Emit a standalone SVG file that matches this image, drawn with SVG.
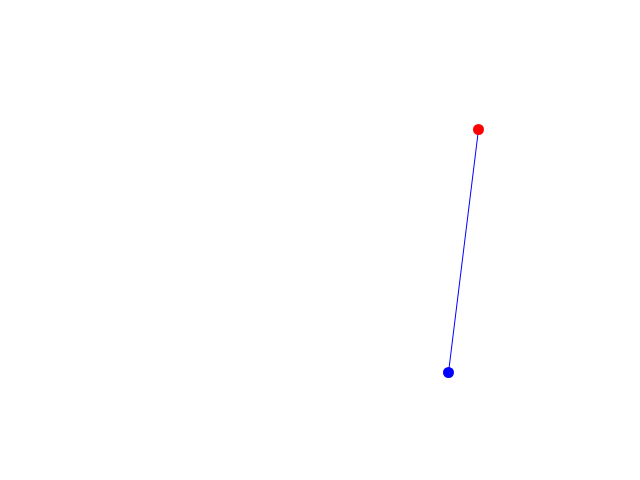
<svg xmlns="http://www.w3.org/2000/svg" width="640" height="480" viewBox="0 0 640 480">
<style>
.edge{stroke:#0000ff;stroke-width:1;fill:none}
</style>
<rect width="640" height="480" fill="#ffffff"/>
<g id="connectors">
<line class="edge" x1="478.5" y1="129.5" x2="448.5" y2="372.5"/>
</g>
<g id="node-red">
<circle cx="478.5" cy="129.5" r="5.5" fill="#ff0000"/>
</g>
<g id="node-blue">
<circle cx="448.5" cy="372.5" r="5.5" fill="#0000ff"/>
</g>
</svg>
